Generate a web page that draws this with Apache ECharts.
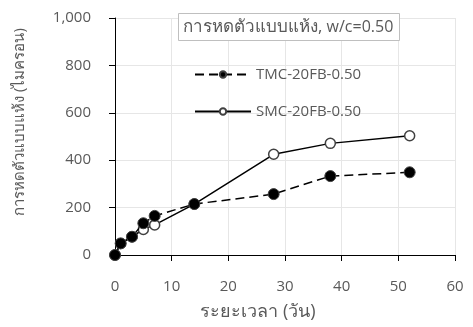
<!DOCTYPE html>
<html>
<head>
<meta charset="utf-8">
<script src="https://cdn.jsdelivr.net/npm/echarts@6/dist/echarts.min.js"></script>
<style>
  html, body { margin: 0; padding: 0; background: #fff; }
  #chart { width: 473px; height: 327px; }
</style>
</head>
<body>
<div id="chart"></div>
<script>
// Drying shrinkage vs. age, w/c = 0.50
const days = [0, 1, 3, 5, 7, 14, 28, 38, 52];
const tmcShrinkage = [0, 49, 77, 134, 165, 215, 257, 333, 349];
const smcShrinkage = [0, 49, 77, 108, 127, 215, 425, 471, 503];
const seriesNames = ['TMC-20FB-0.50', 'SMC-20FB-0.50'];
const boxTitleThai = 'การหดตัวแบบแห้ง,';
const boxTitleLatin = ' w/c=0.50';
const xTitle = 'ระยะเวลา (วัน)';
const yTitle = 'การหดตัวแบบแห้ง (ไมครอน)';

const FONT = '"Open Sans", "Noto Sans", sans-serif';
const TEXT = '#595959';

const pairs = (xs, ys) => xs.map((x, i) => [x, ys[i]]);

const chart = echarts.init(document.getElementById('chart'), null, { renderer: 'canvas' });
chart.setOption({
  animation: false,
  textStyle: { fontFamily: FONT },
  title: {
    text: '{th|' + boxTitleThai + '}{la|' + boxTitleLatin + '}',
    left: 178, top: 12,
    padding: [6, 6, 5, 5],
    borderWidth: 1, borderColor: '#bfbfbf',
    backgroundColor: '#fff',
    textStyle: {
      fontSize: 15, fontWeight: 'normal', color: TEXT, fontFamily: FONT,
      rich: {
        th: { fontSize: 17, color: TEXT, fontFamily: FONT, height: 19 },
        la: { fontSize: 16, color: TEXT, fontFamily: FONT, height: 19 }
      }
    }
  },
  legend: {
    data: seriesNames,
    orient: 'vertical',
    left: 189, top: 62,
    itemGap: 22,
    itemWidth: 56, itemHeight: 8,
    textStyle: { fontSize: 15, color: TEXT, fontFamily: FONT }
  },
  grid: { left: 115, right: 18, top: 18, bottom: 72 },
  xAxis: {
    type: 'value', min: 0, max: 60, interval: 10,
    axisLine: { show: true, lineStyle: { color: '#000', width: 1 } },
    axisTick: { show: true, length: 6, inside: false, lineStyle: { color: '#000' } },
    axisLabel: { fontSize: 15, color: TEXT, margin: 24 },
    splitLine: { show: true, lineStyle: { color: '#e6e6e6', width: 1 } }
  },
  yAxis: {
    type: 'value', min: 0, max: 1000, interval: 200,
    axisLine: { show: true, lineStyle: { color: '#000', width: 1 } },
    axisTick: { show: true, length: 6, inside: false, lineStyle: { color: '#000' } },
    axisLabel: {
      fontSize: 15, color: TEXT, margin: 24,
      formatter: v => v.toLocaleString('en-US')
    },
    splitLine: { show: true, lineStyle: { color: '#e6e6e6', width: 1 } }
  },
  graphic: [
    {
      type: 'text', x: 258, y: 312,
      style: {
        text: xTitle, fontSize: 18, fill: TEXT, fontFamily: FONT,
        align: 'center', verticalAlign: 'middle'
      }
    },
    {
      type: 'text', rotation: Math.PI / 2,
      x: 20, y: 122,
      style: {
        text: yTitle, fontSize: 15, fill: TEXT, fontFamily: FONT,
        align: 'center', verticalAlign: 'middle'
      }
    }
  ],
  series: [
    {
      name: seriesNames[1],
      type: 'line',
      data: pairs(days, smcShrinkage),
      symbol: 'circle', symbolSize: 10,
      itemStyle: { color: '#fff', borderColor: '#404040', borderWidth: 1.5 },
      lineStyle: { color: '#000', width: 1.5, type: 'solid' },
      z: 2
    },
    {
      name: seriesNames[0],
      type: 'line',
      data: pairs(days, tmcShrinkage),
      symbol: 'circle', symbolSize: 11,
      itemStyle: { color: '#000', borderColor: '#404040', borderWidth: 1 },
      lineStyle: { color: '#000', width: 1.5, type: [9, 5] },
      z: 3
    }
  ]
});
</script>
</body>
</html>
